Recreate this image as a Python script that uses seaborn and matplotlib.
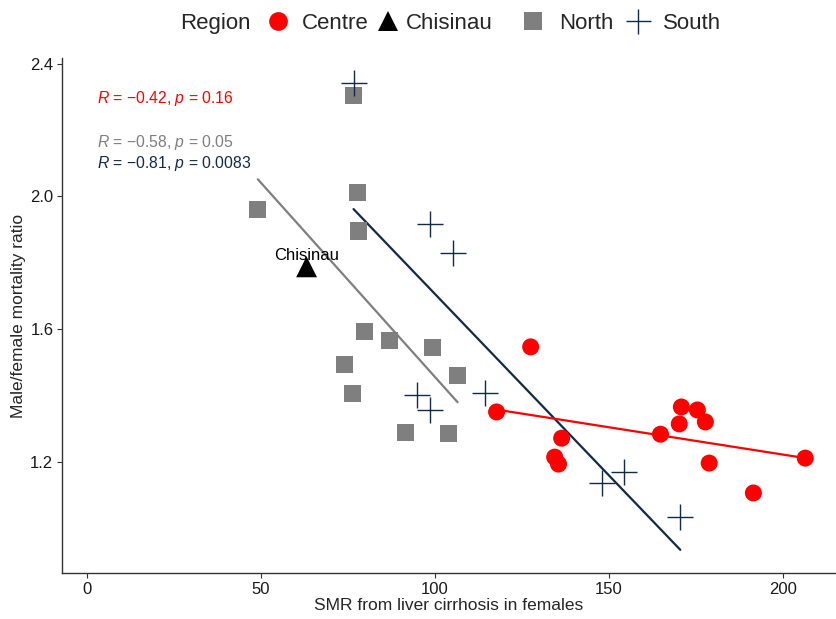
import matplotlib
matplotlib.use("Agg")
import matplotlib.pyplot as plt
from matplotlib.lines import Line2D
import seaborn as sns
import pandas as pd
import numpy as np

# data
centre_x = [127.6, 117.8, 136.5, 134.5, 135.6, 164.9, 170.9, 175.5, 170.3, 177.8, 178.9, 191.6, 206.5]
centre_y = [1.547, 1.351, 1.272, 1.215, 1.194, 1.284, 1.366, 1.357, 1.315, 1.321, 1.197, 1.107, 1.212]
north_x = [76.7, 49.2, 77.9, 78.2, 79.9, 87.1, 99.4, 74.2, 106.6, 76.5, 91.7, 104.0]
north_y = [2.303, 1.960, 2.011, 1.896, 1.592, 1.565, 1.544, 1.495, 1.462, 1.408, 1.290, 1.287]
chisinau_x = [63.2]
chisinau_y = [1.788]
south_x = [76.7, 98.8, 105.4, 94.8, 98.6, 114.6, 148.0, 154.3, 170.6]
south_y = [2.343, 1.917, 1.830, 1.402, 1.357, 1.408, 1.137, 1.170, 1.034]

regions = ["Centre", "Chisinau", "North", "South"]
colors = {"Centre": "#FF0000", "Chisinau": "#000000", "North": "#7F7F7F", "South": "#13294B"}
markers = {"Centre": "o", "Chisinau": "^", "North": "s", "South": "+"}
sizes = {"Centre": 150, "Chisinau": 225, "North": 150, "South": 340}
stats = {"Centre": ("\u22120.42", "0.16"), "North": ("\u22120.58", "0.05"), "South": ("\u22120.81", "0.0083")}

df = pd.concat([
    pd.DataFrame({"smr": centre_x, "ratio": centre_y, "Region": "Centre"}),
    pd.DataFrame({"smr": chisinau_x, "ratio": chisinau_y, "Region": "Chisinau"}),
    pd.DataFrame({"smr": north_x, "ratio": north_y, "Region": "North"}),
    pd.DataFrame({"smr": south_x, "ratio": south_y, "Region": "South"}),
], ignore_index=True)

sns.set_style("white")
plt.rcParams["font.family"] = ["Liberation Sans", "DejaVu Sans"]
plt.rcParams["mathtext.fontset"] = "custom"
plt.rcParams["mathtext.it"] = "Liberation Sans:italic"
plt.rcParams["mathtext.rm"] = "Liberation Sans"

fig = plt.figure(figsize=(8.36, 6.19), dpi=100)
ax = fig.add_axes([0.0745, 0.0743, 0.9245, 0.8320])

for reg in regions:
    sub = df[df.Region == reg]
    if markers[reg] == "+":
        ax.scatter(sub.smr, sub.ratio, marker="+", s=sizes[reg], color=colors[reg],
                   linewidths=1.0, zorder=3)
    else:
        sns.scatterplot(data=sub, x="smr", y="ratio", marker=markers[reg], s=sizes[reg],
                        color=colors[reg], edgecolor="none", ax=ax, zorder=3, legend=False)

# regression lines per region
for reg in ["North", "South", "Centre"]:
    sub = df[df.Region == reg]
    sns.regplot(data=sub, x="smr", y="ratio", scatter=False, ci=None, color=colors[reg],
                line_kws={"lw": 1.6}, ax=ax)

# Chisinau label
ax.annotate("Chisinau", (chisinau_x[0], chisinau_y[0]), xytext=(0, 8), textcoords="offset points",
            ha="center", va="center", fontsize=12, color="black")

# correlation labels
ann_y = {"Centre": 2.296, "North": 2.164, "South": 2.100}
for reg in ["Centre", "North", "South"]:
    r, p = stats[reg]
    ax.text(3, ann_y[reg], r"$R$ = " + r + r", $p$ = " + p, color=colors[reg],
            fontsize=11.3, ha="left", va="center")

ax.set_xlim(-7.0, 215.1)
ax.set_ylim(0.866, 2.417)
ax.set_xticks([0, 50, 100, 150, 200])
ax.set_yticks([1.2, 1.6, 2.0, 2.4])
ax.set_yticklabels(["1.2", "1.6", "2.0", "2.4"])
ax.tick_params(axis="both", labelsize=12, length=3.5, width=0.8, color="#333333",
               labelcolor="#1a1a1a", direction="out", bottom=True, left=True, pad=3)
ax.set_xlabel("SMR from liver cirrhosis in females", fontsize=12.5, labelpad=1)
ax.set_ylabel("Male/female mortality ratio", fontsize=12.5, labelpad=3)
sns.despine(ax=ax)
for s in ["left", "bottom"]:
    ax.spines[s].set_color("#333333")
    ax.spines[s].set_linewidth(1.0)

# legend on top (ggplot style, title to the left of the keys)
leg_y = 1 - 21 / 619
key_x = {"Centre": 278, "Chisinau": 388, "North": 533, "South": 638}
text_x = {"Centre": 302, "Chisinau": 406, "North": 559, "South": 663}
key_ms = {"Centre": 13.5, "Chisinau": 15, "North": 13.5, "South": 18}
fig.text(180 / 836, leg_y, "Region", fontsize=16, ha="left", va="center_baseline")
for reg in regions:
    kx = key_x[reg] / 836
    fig.add_artist(Line2D([kx], [leg_y], transform=fig.transFigure, marker=markers[reg],
                          color=colors[reg], linestyle="none", markersize=key_ms[reg],
                          markeredgewidth=1.0 if markers[reg] == "+" else 0))
    fig.text(text_x[reg] / 836, leg_y, reg, fontsize=16, ha="left", va="center_baseline")

fig.savefig("out.png", dpi=100)
